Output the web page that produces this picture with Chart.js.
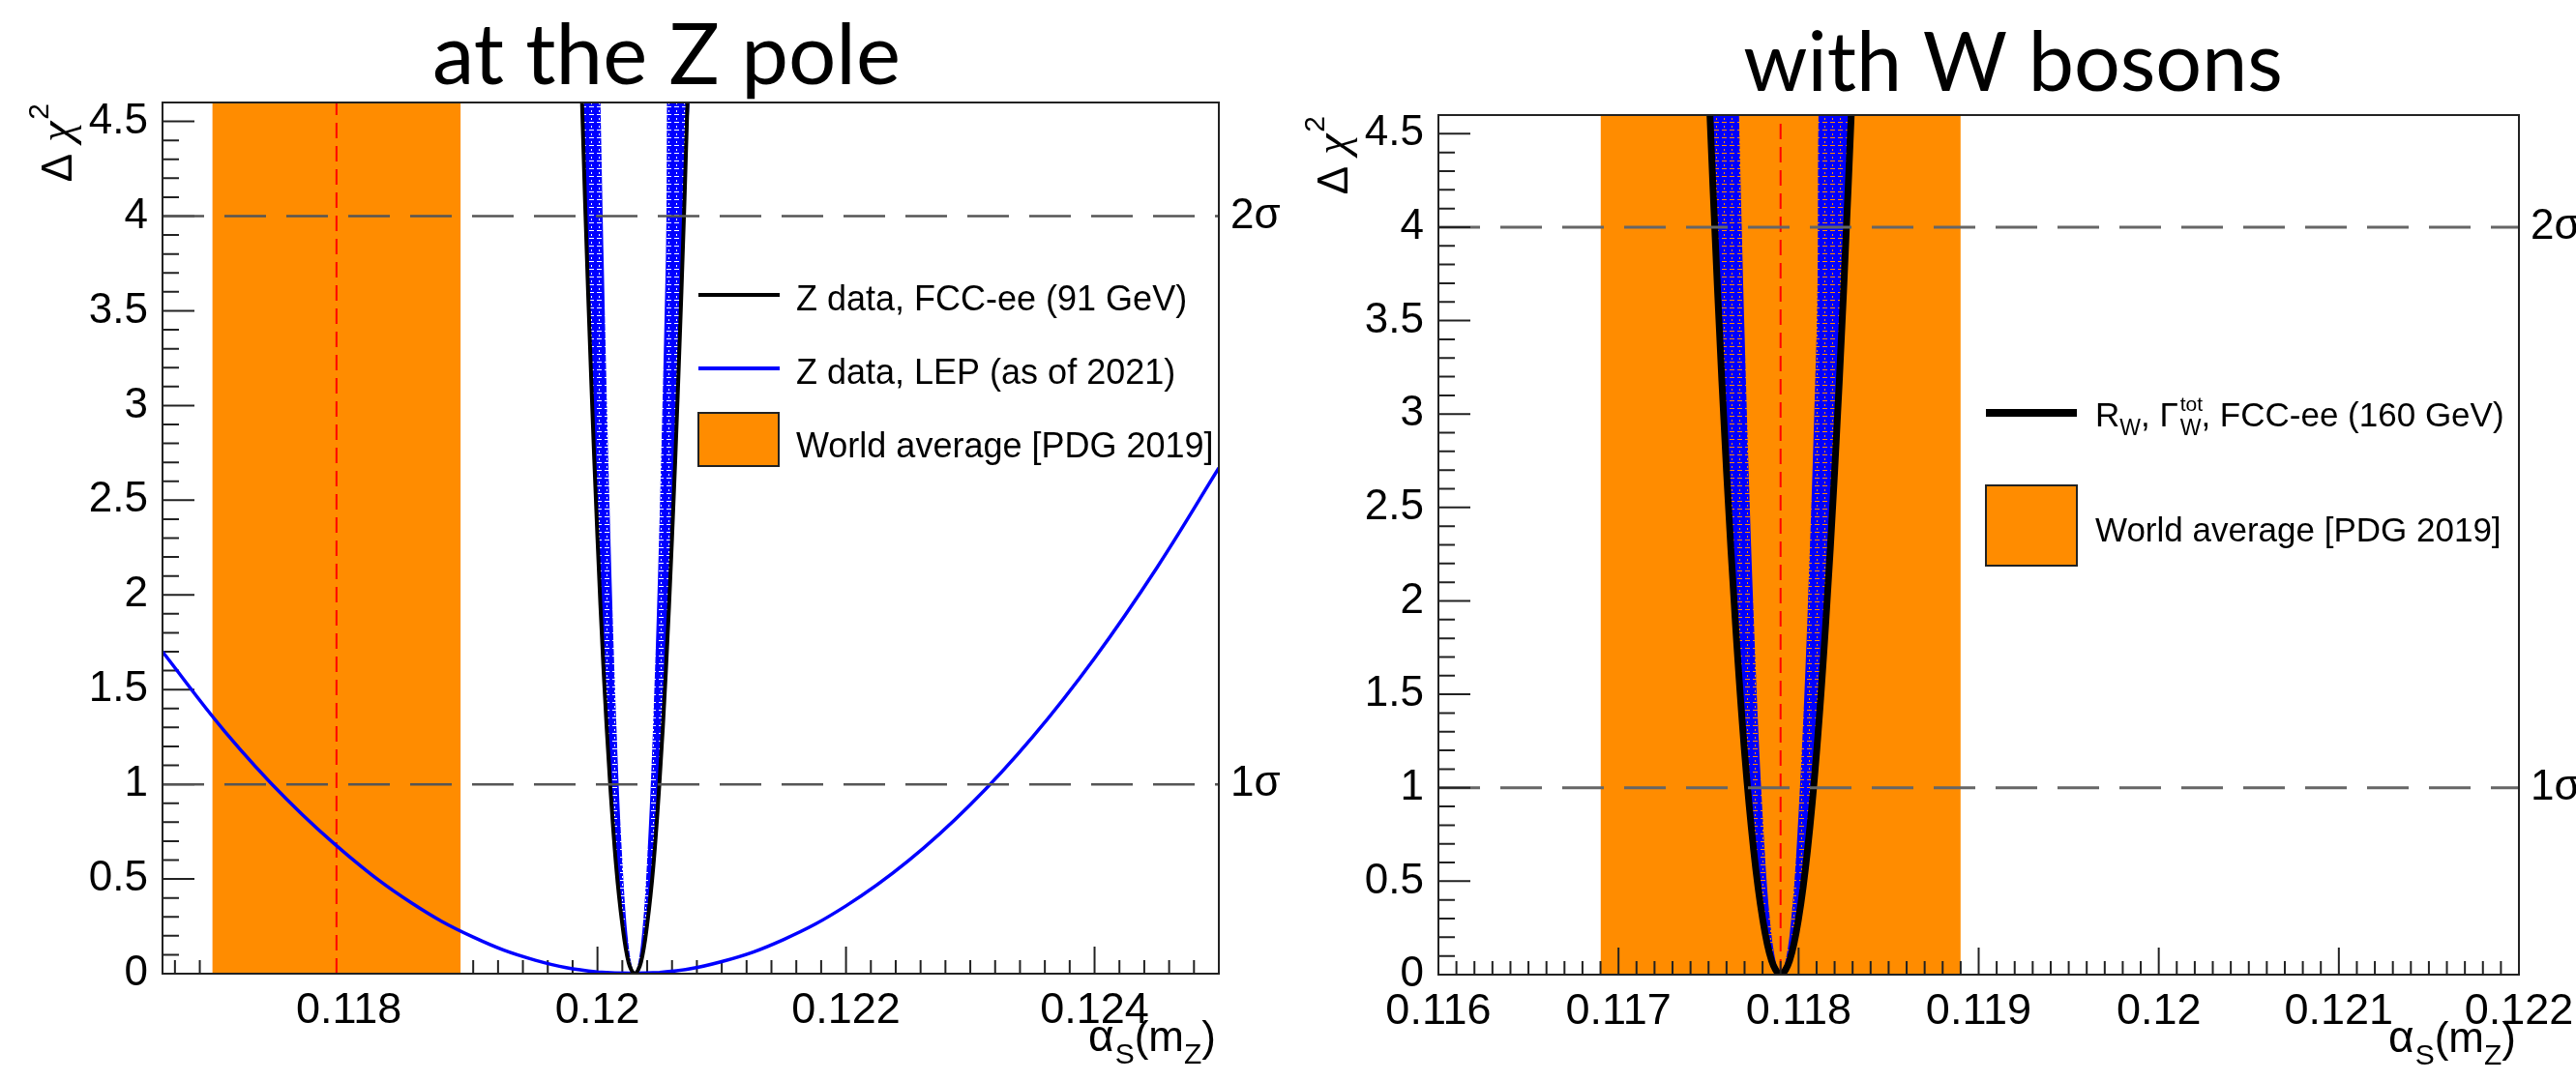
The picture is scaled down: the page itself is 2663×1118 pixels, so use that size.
<!DOCTYPE html>
<html>
<head>
<meta charset="utf-8">
<script src="https://cdn.jsdelivr.net/npm/chart.js@4.4.0/dist/chart.umd.min.js"></script>
<style>
  html, body { margin: 0; padding: 0; background: #fff; }
  body { width: 2663px; height: 1118px; position: relative; overflow: hidden; }
  canvas { position: absolute; top: 0; }
  #zpole { left: 0; }
  #wbos { left: 1331px; }
</style>
</head>
<body>
<canvas id="zpole" width="1331" height="1118"></canvas>
<canvas id="wbos" width="1332" height="1118"></canvas>
<script>
// ---------- shared ----------
const yTicks = [0, 0.5, 1, 1.5, 2, 2.5, 3, 3.5, 4, 4.5];
const yLabels = ['0', '0.5', '1', '1.5', '2', '2.5', '3', '3.5', '4', '4.5'];
const sigmaLevels = [1, 4];
const sigmaLabels = ['1σ', '2σ'];
const worldAvgBand = [0.1169, 0.1189];
const worldAvgCentral = 0.1179;

// ---------- left panel: at the Z pole ----------
const zXTicks = [0.118, 0.12, 0.122, 0.124];
const zXLabels = ['0.118', '0.12', '0.122', '0.124'];
// FCC-ee Z data, outer edge (black curve)
const fccZ_x = [0.11985, 0.1199, 0.11995, 0.12, 0.12005, 0.1201, 0.12015, 0.1202, 0.12025, 0.1203,
                0.12035, 0.1204, 0.12045, 0.1205, 0.12055, 0.1206, 0.12065, 0.1207, 0.12075];
const fccZ_chi2 = [5.17, 4.08, 3.13, 2.30, 1.59, 1.02, 0.57, 0.26, 0.06, 0,
                   0.06, 0.26, 0.57, 1.02, 1.59, 2.30, 3.13, 4.08, 5.17];
// inner edge of the hatched band
const fccZin_x = [0.12, 0.12005, 0.1201, 0.12015, 0.1202, 0.12025, 0.1203,
                  0.12035, 0.1204, 0.12045, 0.1205, 0.12055, 0.1206];
const fccZin_chi2 = [5.41, 3.76, 2.40, 1.35, 0.60, 0.15, 0, 0.15, 0.60, 1.35, 2.40, 3.76, 5.41];
// Z data, LEP (as of 2021)
const lep_x = [0.1165, 0.117, 0.1175, 0.118, 0.1185, 0.119, 0.1195, 0.12, 0.1205,
               0.121, 0.1215, 0.122, 0.1225, 0.123, 0.1235, 0.124, 0.1245, 0.125];
const lep_chi2 = [1.70, 1.28, 0.92, 0.62, 0.375, 0.193, 0.071, 0.009, 0.006,
                  0.064, 0.181, 0.358, 0.595, 0.892, 1.249, 1.666, 2.142, 2.67];

// ---------- right panel: with W bosons ----------
const wXTicks = [0.116, 0.117, 0.118, 0.119, 0.12, 0.121, 0.122];
const wXLabels = ['0.116', '0.117', '0.118', '0.119', '0.12', '0.121', '0.122'];
const fccW_x = [0.11745, 0.1175, 0.11755, 0.1176, 0.11765, 0.1177, 0.11775, 0.1178, 0.11785, 0.1179,
                0.11795, 0.118, 0.11805, 0.1181, 0.11815, 0.1182, 0.11825, 0.1183, 0.11835];
const fccW_chi2 = [6.05, 4.78, 3.66, 2.69, 1.87, 1.19, 0.67, 0.30, 0.075, 0,
                   0.075, 0.30, 0.67, 1.19, 1.87, 2.69, 3.66, 4.78, 6.05];
const fccWin_x = [0.11765, 0.1177, 0.11775, 0.1178, 0.11785, 0.1179, 0.11795, 0.118, 0.11805, 0.1181, 0.11815];
const fccWin_chi2 = [5.36, 3.43, 1.93, 0.86, 0.21, 0, 0.21, 0.86, 1.93, 3.43, 5.36];

const SANS = '"Liberation Sans", Arial, sans-serif';

function pts(xs, ys) { return xs.map((x, i) => ({x: x, y: ys[i]})); }
function shape(ox, oy, ix, iy) { return pts(ox, oy).concat(pts(ix, iy).reverse()); }

function hatch() {
  const c = document.createElement('canvas');
  c.width = 8; c.height = 8;
  const g = c.getContext('2d');
  g.fillStyle = '#0000ff';
  g.fillRect(0, 0, 8, 8);
  g.clearRect(1, 6, 5, 1);
  g.clearRect(3, 2, 1, 2);
  return g.createPattern(c, 'repeat');
}

// draw a run of text pieces (for sub/superscripts)
function runs(ctx, parts, x, base) {
  for (const r of parts) {
    ctx.font = (r.style || '') + ' ' + r.size + 'px ' + (r.family || SANS);
    ctx.fillText(r.t, x, base + (r.dy || 0));
    if (!r.stay) x += ctx.measureText(r.t).width + (r.gap || 0);
  }
  return x;
}
function runsWidth(ctx, parts) {
  let w = 0;
  for (const r of parts) {
    ctx.font = (r.style || '') + ' ' + r.size + 'px ' + (r.family || SANS);
    if (!r.stay) w += ctx.measureText(r.t).width + (r.gap || 0);
  }
  return w;
}

function drawTicks(chart, p) {
  const {ctx, chartArea: a, scales: {x, y}} = chart;
  ctx.save();
  ctx.strokeStyle = '#222';
  ctx.lineWidth = 2;
  ctx.beginPath();
  for (let i = 0; i <= 46; i++) {
    const py = y.getPixelForValue(i / 10);
    const len = i % 5 === 0 ? 33 : 17;
    ctx.moveTo(a.left, py);
    ctx.lineTo(a.left + len, py);
  }
  const i0 = Math.ceil(x.min / p.minorStep - 1e-6), i1 = Math.floor(x.max / p.minorStep + 1e-6);
  for (let i = i0; i <= i1; i++) {
    const px = x.getPixelForValue(i * p.minorStep);
    const len = i % 10 === 0 ? 28 : 14;
    ctx.moveTo(px, a.bottom);
    ctx.lineTo(px, a.bottom - len);
  }
  ctx.stroke();
  ctx.restore();
}

function decor(p) {
  return {
    id: 'decor',
    beforeDatasetsDraw(chart) { if (!p.ticksOnTop) drawTicks(chart, p); },
    afterDatasetsDraw(chart) {
      const {ctx, chartArea: a} = chart;
      if (p.ticksOnTop) drawTicks(chart, p);
      ctx.save();
      // frame
      ctx.strokeStyle = '#222';
      ctx.lineWidth = 2;
      ctx.strokeRect(a.left, a.top, a.right - a.left, a.bottom - a.top);

      ctx.fillStyle = '#000';
      ctx.textAlign = 'left';
      ctx.textBaseline = 'alphabetic';

      // title, fitted to the measured width
      ctx.font = '100px Lato';
      const tw = ctx.measureText(p.title).width;
      ctx.font = (100 * p.titleW / tw).toFixed(1) + 'px Lato';
      ctx.textAlign = 'center';
      ctx.fillText(p.title, p.titleX - p.ox, p.titleBase);
      ctx.textAlign = 'left';

      // y-axis title, rotated, ending at the top of the frame
      const yt = [
        {t: 'Δ', size: 44, gap: 12},
        {t: 'χ', size: 48, style: 'italic', family: '"Liberation Serif", serif', gap: 2},
        {t: '2', size: 30, dy: -24}
      ];
      ctx.save();
      ctx.translate(a.left - 94, a.top + 1);
      ctx.rotate(-Math.PI / 2);
      runs(ctx, yt, -runsWidth(ctx, yt), 0);
      ctx.restore();

      // x-axis title, right aligned
      const xt = [
        {t: 'α', size: 46, gap: 1},
        {t: 'S', size: 30, dy: 13},
        {t: '(m', size: 44},
        {t: 'Z', size: 30, dy: 13},
        {t: ')', size: 44}
      ];
      runs(ctx, xt, a.right - 3 - runsWidth(ctx, xt), a.bottom + 80);

      // legend
      for (const e of p.legend) {
        const lx = e.x0 - p.ox, lw = e.x1 - e.x0;
        if (e.box) {
          ctx.fillStyle = '#ff8c00';
          ctx.fillRect(lx, e.box[0], lw, e.box[1] - e.box[0]);
          ctx.strokeStyle = '#222';
          ctx.lineWidth = 2;
          ctx.strokeRect(lx, e.box[0], lw, e.box[1] - e.box[0]);
        } else {
          ctx.strokeStyle = e.color;
          ctx.lineWidth = e.lw;
          ctx.beginPath();
          ctx.moveTo(lx, e.ly);
          ctx.lineTo(lx + lw, e.ly);
          ctx.stroke();
        }
        ctx.fillStyle = '#000';
        runs(ctx, e.text, e.tx - p.ox, e.base);
      }
      ctx.restore();
    }
  };
}

function makePanel(id, p) {
  const pattern = hatch();
  const datasets = [
    {data: [{x: p.xmin, y: sigmaLevels[1]}, {x: p.xmax, y: sigmaLevels[1]}],
     borderColor: p.dashColor, borderWidth: p.dashWidth, borderDash: [43, 21], order: 0},
    {data: [{x: p.xmin, y: sigmaLevels[0]}, {x: p.xmax, y: sigmaLevels[0]}],
     borderColor: p.dashColor, borderWidth: p.dashWidth, borderDash: [43, 21], order: 0},
    {data: pts(p.fccX, p.fccY), borderColor: '#000', borderWidth: p.fccWidth, tension: 0.35, order: 1},
    {data: shape(p.fccX, p.fccY, p.fccInX, p.fccInY), fill: 'shape', backgroundColor: pattern,
     borderColor: 'rgba(0,0,0,0)', borderWidth: 0, tension: 0.35, order: 2},
    {data: [{x: worldAvgCentral, y: 0}, {x: worldAvgCentral, y: 4.6}],
     borderColor: '#ff0000', borderWidth: 2, borderDash: [16, 8], order: 4},
    {data: [{x: worldAvgBand[0], y: 4.6}, {x: worldAvgBand[1], y: 4.6}], fill: 'origin',
     backgroundColor: '#ff8c00', borderColor: 'rgba(0,0,0,0)', borderWidth: 0, order: 5}
  ];
  if (p.lepX) {
    datasets.push({data: pts(p.lepX, p.lepY), borderColor: '#0000ff', borderWidth: 3.5, tension: 0.4, order: 3});
  }
  const tickFont = {family: SANS, size: 44};
  return new Chart(document.getElementById(id), {
    type: 'line',
    data: {datasets: datasets},
    options: {
      responsive: false,
      animation: false,
      devicePixelRatio: 1,
      events: [],
      layout: {padding: {top: p.top, left: 0, right: 0, bottom: 0}},
      plugins: {legend: {display: false}, tooltip: {enabled: false}},
      datasets: {line: {pointRadius: 0, clip: 0, fill: false, borderCapStyle: 'butt'}},
      scales: {
        x: {
          type: 'linear', min: p.xmin, max: p.xmax,
          grid: {display: false}, border: {display: false},
          ticks: {font: {family: SANS, size: 45}, color: '#000', padding: 4, autoSkip: false, maxRotation: 0,
                  callback: (v, i) => p.xLabels[i]},
          afterBuildTicks: s => { s.ticks = p.xTicks.map(v => ({value: v})); },
          afterFit: s => { s.height = p.xHeight; s.paddingLeft = 0; s.paddingRight = 0; }
        },
        y: {
          type: 'linear', position: 'left', min: 0, max: 4.6,
          grid: {display: false}, border: {display: false},
          ticks: {font: tickFont, color: '#000', padding: 7, autoSkip: false,
                  callback: (v, i) => yLabels[i]},
          afterBuildTicks: s => { s.ticks = yTicks.map(v => ({value: v})); },
          afterFit: s => { s.width = p.yWidth; s.paddingTop = 0; s.paddingBottom = 0; }
        },
        y2: {
          type: 'linear', position: 'right', display: true, min: 0, max: 4.6,
          grid: {display: false}, border: {display: false},
          ticks: {font: tickFont, color: '#000', padding: 4, autoSkip: false,
                  callback: (v, i) => sigmaLabels[i]},
          afterBuildTicks: s => { s.ticks = sigmaLevels.map(v => ({value: v})); },
          afterFit: s => { s.width = p.y2Width; s.paddingTop = 0; s.paddingBottom = 0; }
        }
      }
    },
    plugins: [decor(p)]
  });
}

makePanel('zpole', {
  ox: 0, top: 106, yWidth: 168, y2Width: 71, xHeight: 111,
  xmin: 0.1165, xmax: 0.125, xTicks: zXTicks, xLabels: zXLabels, minorStep: 0.0002,
  fccX: fccZ_x, fccY: fccZ_chi2, fccInX: fccZin_x, fccInY: fccZin_chi2, fccWidth: 4,
  lepX: lep_x, lepY: lep_chi2,
  dashColor: '#555', dashWidth: 2.5, ticksOnTop: false,
  title: 'at the Z pole', titleX: 689, titleW: 484, titleBase: 87,
  legend: [
    {x0: 722, x1: 806, ly: 305, color: '#000', lw: 4, tx: 823, base: 321,
     text: [{t: 'Z data, FCC-ee (91 GeV)', size: 36}]},
    {x0: 722, x1: 806, ly: 381, color: '#0000ff', lw: 4, tx: 823, base: 397,
     text: [{t: 'Z data, LEP (as of 2021)', size: 36}]},
    {x0: 722, x1: 805, box: [427, 482], tx: 823, base: 473,
     text: [{t: 'World average [PDG 2019]', size: 36}]}
  ]
});

makePanel('wbos', {
  ox: 1331, top: 119, yWidth: 156, y2Width: 59, xHeight: 110,
  xmin: 0.116, xmax: 0.122, xTicks: wXTicks, xLabels: wXLabels, minorStep: 0.0001,
  fccX: fccW_x, fccY: fccW_chi2, fccInX: fccWin_x, fccInY: fccWin_chi2, fccWidth: 7,
  dashColor: '#666', dashWidth: 3, ticksOnTop: true,
  title: 'with W bosons', titleX: 2081, titleW: 558, titleBase: 94,
  legend: [
    {x0: 2053, x1: 2147, ly: 427, color: '#000', lw: 8, tx: 2166, base: 441,
     text: [{t: 'R', size: 35}, {t: 'W', size: 23, dy: 9}, {t: ', ', size: 35},
            {t: 'Γ', size: 35, gap: 2}, {t: 'tot', size: 21, dy: -16, stay: true},
            {t: 'W', size: 23, dy: 9}, {t: ', FCC-ee (160 GeV)', size: 35}]},
    {x0: 2053, x1: 2147, box: [502, 585], tx: 2166, base: 560,
     text: [{t: 'World average [PDG 2019]', size: 35}]}
  ]
});
</script>
</body>
</html>
